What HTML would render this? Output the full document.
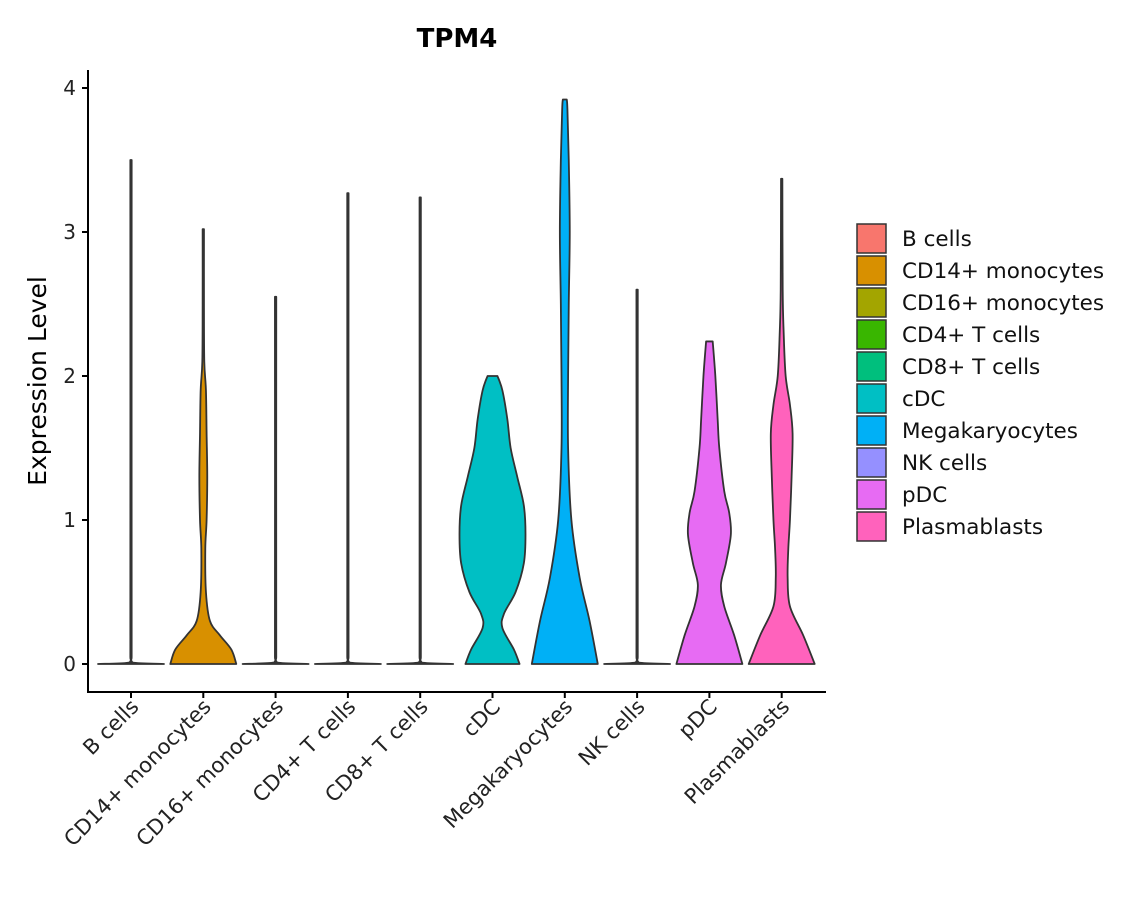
<!DOCTYPE html>
<html><head><meta charset="utf-8"><style>
body{margin:0;background:#fff;}
svg text{font-family:"DejaVu Sans","Liberation Sans",sans-serif;}
</style></head><body>
<svg id="chart" width="1140" height="900" xmlns="http://www.w3.org/2000/svg">
<rect width="1140" height="900" fill="#fff"/>
<text x="457" y="47" text-anchor="middle" font-size="26" font-weight="bold">TPM4</text>
<text transform="translate(46,381) rotate(-90)" text-anchor="middle" font-size="25">Expression Level</text>
<g id="plot"></g>
<g id="legend"></g>
</svg>
<script>
const categories=["B cells","CD14+ monocytes","CD16+ monocytes","CD4+ T cells","CD8+ T cells","cDC","Megakaryocytes","NK cells","pDC","Plasmablasts"];
const colors=["#F8766D","#D89000","#A3A500","#39B600","#00BF7D","#00BFC4","#00B0F6","#9590FF","#E76BF3","#FF62BC"];
const yTicks=[0,1,2,3,4];
const profB=[[0,1],[0.01,0.05],[0.05,0.02],[3.5,0.02]];
const profCD14=[[0,1],[0.1,0.85],[0.2,0.5],[0.3,0.2],[0.5,0.08],[0.8,0.06],[1.0,0.1],[1.3,0.12],[1.6,0.1],[1.9,0.08],[2.1,0.03],[2.5,0.02],[3.02,0.02]];
const profCD16=[[0,1],[0.01,0.05],[0.05,0.02],[2.55,0.02]];
const profCD4=[[0,1],[0.01,0.05],[0.05,0.02],[3.27,0.02]];
const profCD8=[[0,1],[0.01,0.05],[0.05,0.02],[3.24,0.02]];
const profcDC=[[0,0.82],[0.1,0.65],[0.25,0.3],[0.35,0.35],[0.5,0.7],[0.7,0.95],[0.9,1],[1.1,0.95],[1.3,0.75],[1.5,0.55],[1.7,0.45],[1.9,0.3],[2.0,0.15]];
const profMega=[[0,1],[0.3,0.75],[0.6,0.45],[1.0,0.2],[1.5,0.1],[2.0,0.1],[2.5,0.12],[3.0,0.15],[3.5,0.12],[3.85,0.08],[3.92,0.06]];
const profNK=[[0,1],[0.01,0.05],[0.05,0.02],[2.6,0.02]];
const profpDC=[[0,1],[0.2,0.75],[0.4,0.45],[0.55,0.35],[0.7,0.5],[0.9,0.65],[1.05,0.6],[1.2,0.45],[1.5,0.3],[1.7,0.25],[2.0,0.18],[2.24,0.1]];
const profPlasma=[[0,1],[0.2,0.65],[0.4,0.25],[0.6,0.18],[0.8,0.2],[1.0,0.25],[1.3,0.3],[1.6,0.33],[1.8,0.25],[2.0,0.12],[2.3,0.06],[2.6,0.03],[3.37,0.02]];
const profiles=[profB,profCD14,profCD16,profCD4,profCD8,profcDC,profMega,profNK,profpDC,profPlasma];

const NS="http://www.w3.org/2000/svg";
const plot=document.getElementById('plot');
const yS=v=>664-v*144;
const xS=i=>131+i*72.3;
const HW=33;
function mk(tag,attrs,parent){const e=document.createElementNS(NS,tag);for(const k in attrs)e.setAttribute(k,attrs[k]);parent.appendChild(e);return e;}
const clamp=(v,a,b)=>Math.min(Math.max(v,Math.min(a,b)),Math.max(a,b));
function segs(pts){
  let d='';
  for(let i=0;i<pts.length-1;i++){
    const p0=pts[Math.max(0,i-1)],p1=pts[i],p2=pts[i+1],p3=pts[Math.min(pts.length-1,i+2)];
    const c1=[p1[0]+(p2[0]-p0[0])/6,clamp(p1[1]+(p2[1]-p0[1])/6,p1[1],p2[1])];
    const c2=[p2[0]-(p3[0]-p1[0])/6,clamp(p2[1]-(p3[1]-p1[1])/6,p1[1],p2[1])];
    d+=` C${c1[0]},${c1[1]} ${c2[0]},${c2[1]} ${p2[0]},${p2[1]}`;
  }
  return d;
}
let ax=mk('line',{x1:88,y1:70,x2:88,y2:693,stroke:'#000','stroke-width':2},plot);


let bx=mk('line',{x1:87,y1:692,x2:826,y2:692,stroke:'#000','stroke-width':2},plot);


yTicks.forEach(t=>{
  let l=mk('line',{x1:82,x2:88,y1:yS(t),y2:yS(t),stroke:'#000','stroke-width':2},plot);
  
  
  let tx=mk('text',{x:76,y:yS(t)+7,'text-anchor':'end','font-size':20,fill:'#222'},plot);
  tx.textContent=t;
  
  
});
categories.forEach((c,i)=>{
  const cx=xS(i),p=profiles[i];
  const right=p.map(([v,w])=>[cx+w*HW,yS(v)]);
  const left=p.slice().reverse().map(([v,w])=>[cx-w*HW,yS(v)]);
  const d=`M${right[0][0]},${right[0][1]}`+segs(right)+` L${left[0][0]},${left[0][1]}`+segs(left)+' Z';
  let poly=mk('path',{d:d,fill:colors[i],stroke:'#333','stroke-width':1.8,'stroke-linejoin':'round'},plot);
  
  
  let tk=mk('line',{x1:cx,x2:cx,y1:692,y2:698,stroke:'#000','stroke-width':2},plot);
  
  
  let tl=mk('text',{transform:`translate(${cx+9},${708}) rotate(-45)`,'text-anchor':'end','font-size':21,fill:'#222'},plot);
  tl.textContent=c;
  
  
});
const lg=document.getElementById('legend');
categories.forEach((c,i)=>{
  const y=224+i*32;
  let r=mk('rect',{x:857,y:y,width:29,height:29,fill:colors[i],stroke:'#333','stroke-width':1.5},lg);
  
  
  let t=mk('text',{x:902,y:y+22,'font-size':21.5,fill:'#111'},lg);
  t.textContent=c;
  
  
});
</script>
</body></html>
